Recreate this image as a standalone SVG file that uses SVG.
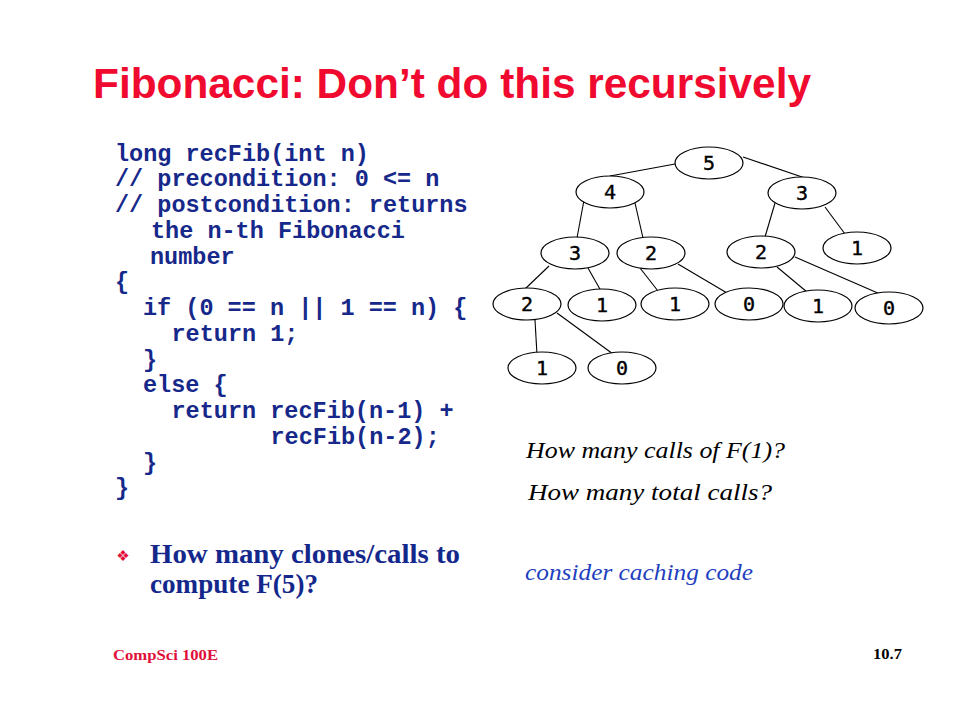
<svg xmlns="http://www.w3.org/2000/svg" width="960" height="720" viewBox="0 0 960 720">
<style>
.title{font-family:"Liberation Sans",Arial,sans-serif;font-weight:bold;font-size:42px;fill:#f00a30}
.code{font-family:"Liberation Mono","Courier New",monospace;font-weight:bold;font-size:23.5px;fill:#16288a}
.node ellipse{fill:#fff;stroke:#000;stroke-width:1.2}
.node text{font-family:"DejaVu Sans Mono",monospace;font-size:20px;fill:#000;stroke:#000;stroke-width:0.4;text-anchor:middle}
.edges line{stroke:#000;stroke-width:1.1}
.q{font-family:"Liberation Serif","Times New Roman",serif;font-style:italic;font-size:23px;fill:#000}
.bul{font-family:"Liberation Serif","Times New Roman",serif;font-weight:bold;font-size:28px;fill:#14288c}
.foot{font-family:"Liberation Serif","Times New Roman",serif;font-weight:bold;font-size:15px}
</style>
<rect width="960" height="720" fill="#fff"/>
<text class="title" x="93" y="98" textLength="718" lengthAdjust="spacingAndGlyphs">Fibonacci: Don’t do this recursively</text>
<g id="code">
<text class="code" x="115" y="160.5">long recFib(int n)</text>
<text class="code" x="115" y="186.3">// precondition: 0 &lt;= n</text>
<text class="code" x="115" y="212">// postcondition: returns</text>
<text class="code" x="151" y="237.8">the n-th Fibonacci</text>
<text class="code" x="150" y="263.5">number</text>
<text class="code" x="115" y="289.3">{</text>
<text class="code" x="143" y="315">if (0 == n || 1 == n) {</text>
<text class="code" x="171.5" y="340.8">return 1;</text>
<text class="code" x="143" y="366.5">}</text>
<text class="code" x="143" y="392.3">else {</text>
<text class="code" x="171.5" y="418">return recFib(n-1) +</text>
<text class="code" x="270.5" y="443.8">recFib(n-2);</text>
<text class="code" x="143" y="469.5">}</text>
<text class="code" x="115" y="495.3">}</text>
</g>
<g id="connectors" class="edges">
<line x1="675" y1="164" x2="610" y2="176"/>
<line x1="743" y1="157" x2="805" y2="178"/>
<line x1="584" y1="200" x2="577" y2="238"/>
<line x1="635" y1="203" x2="643" y2="238"/>
<line x1="775" y1="203" x2="765" y2="237"/>
<line x1="825" y1="207" x2="845" y2="234"/>
<line x1="549" y1="266" x2="525" y2="289"/>
<line x1="588" y1="268" x2="601" y2="291"/>
<line x1="640" y1="268" x2="658" y2="291"/>
<line x1="678" y1="264" x2="727" y2="293"/>
<line x1="777" y1="267" x2="807" y2="292"/>
<line x1="795" y1="257" x2="880" y2="294"/>
<line x1="535" y1="320" x2="537" y2="355"/>
<line x1="557" y1="313" x2="613" y2="354"/>
</g>
<g id="n5" class="node"><ellipse cx="709" cy="163" rx="34" ry="16"/><text x="709" y="170">5</text></g>
<g id="n4" class="node"><ellipse cx="610" cy="192" rx="34" ry="16"/><text x="610" y="199">4</text></g>
<g id="n3r" class="node"><ellipse cx="802" cy="193" rx="34" ry="16"/><text x="802" y="200">3</text></g>
<g id="n3l" class="node"><ellipse cx="575" cy="253" rx="34" ry="16"/><text x="575" y="260">3</text></g>
<g id="n2m" class="node"><ellipse cx="651" cy="253" rx="34" ry="16"/><text x="651" y="260">2</text></g>
<g id="n2r" class="node"><ellipse cx="761" cy="252" rx="34" ry="16"/><text x="761" y="259">2</text></g>
<g id="n1r" class="node"><ellipse cx="857" cy="248" rx="34" ry="16"/><text x="857" y="255">1</text></g>
<g id="n2l" class="node"><ellipse cx="527" cy="304" rx="34" ry="16"/><text x="527" y="311">2</text></g>
<g id="n1a" class="node"><ellipse cx="602" cy="305" rx="34" ry="16"/><text x="602" y="312">1</text></g>
<g id="n1b" class="node"><ellipse cx="675" cy="304" rx="34" ry="16"/><text x="675" y="311">1</text></g>
<g id="n0a" class="node"><ellipse cx="749" cy="304" rx="34" ry="16"/><text x="749" y="311">0</text></g>
<g id="n1c" class="node"><ellipse cx="818" cy="306" rx="34" ry="16"/><text x="818" y="313">1</text></g>
<g id="n0b" class="node"><ellipse cx="889" cy="308" rx="34" ry="16"/><text x="889" y="315">0</text></g>
<g id="n1d" class="node"><ellipse cx="542" cy="368" rx="34" ry="16"/><text x="542" y="375">1</text></g>
<g id="n0c" class="node"><ellipse cx="622" cy="368" rx="34" ry="16"/><text x="622" y="375">0</text></g>
<text class="q" x="526" y="458" textLength="259" lengthAdjust="spacingAndGlyphs">How many calls of F(1)?</text>
<text class="q" x="528" y="500" textLength="244" lengthAdjust="spacingAndGlyphs">How many total calls?</text>
<text class="q" x="525" y="580" textLength="228" lengthAdjust="spacingAndGlyphs" style="fill:#1f3fbf">consider caching code</text>
<text x="123" y="561" font-family="DejaVu Sans,sans-serif" font-size="15" fill="#e0103a" text-anchor="middle">❖</text>
<text class="bul" x="150" y="563" textLength="310" lengthAdjust="spacingAndGlyphs">How many clones/calls to</text>
<text class="bul" x="150" y="593" textLength="168" lengthAdjust="spacingAndGlyphs">compute F(5)?</text>
<text class="foot" x="113" y="660" textLength="105" lengthAdjust="spacingAndGlyphs" fill="#e0103a">CompSci 100E</text>
<text class="foot" x="873" y="659" textLength="29" lengthAdjust="spacingAndGlyphs" fill="#000">10.7</text>
</svg>
